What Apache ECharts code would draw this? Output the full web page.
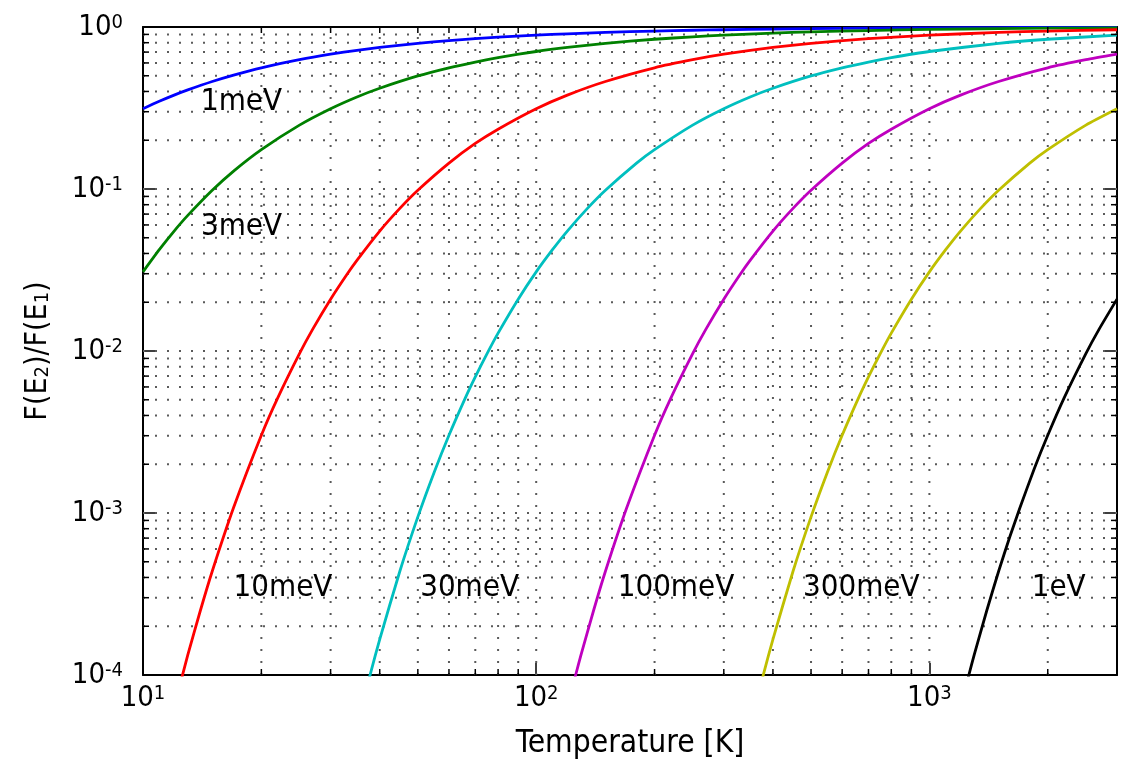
<!DOCTYPE html>
<html><head><meta charset="utf-8">
<script src="https://cdn.jsdelivr.net/npm/echarts@6/dist/echarts.min.js"></script>
<style>html,body{margin:0;padding:0;background:#fff}#c{width:1124px;height:761px}</style>
</head><body><div id="c"></div>
<script>
// Values
const T_1meV = [10,11,12,13,15,17,20,25,30,35,40,50,60,70,80,100,120,150,200,250,300,400,500,700,1000,1500,2000,3000];
const R_1meV = [0.313,0.348,0.380,0.409,0.461,0.505,0.560,0.628,0.679,0.718,0.748,0.793,0.824,0.847,0.865,0.890,0.908,0.926,0.944,0.955,0.962,0.971,0.977,0.984,0.988,0.992,0.994,0.996];
const T_3meV = [10,11,12,13,15,17,20,25,30,35,40,50,60,70,80,100,120,150,200,250,300,400,500,700,1000,1500,2000,3000];
const R_3meV = [0.0308,0.0422,0.0550,0.0687,0.0982,0.129,0.175,0.248,0.313,0.370,0.419,0.499,0.560,0.608,0.647,0.706,0.748,0.793,0.840,0.870,0.890,0.917,0.933,0.951,0.966,0.977,0.983,0.988];
const T_10meV = [12,13,14,15,17,20,22,25,27,30,33,35,40,45,50,60,70,80,100,120,150,200,250,300,400,500,700,1000,1500,2000,3000];
const R_10meV = [6.31e-5,1.33e-4,2.51e-4,4.37e-4,1.08e-3,3.02e-3,5.12e-3,9.64e-3,0.0136,0.0209,0.0297,0.0363,0.0550,0.0759,0.0982,0.1445,0.191,0.234,0.313,0.380,0.461,0.560,0.628,0.679,0.748,0.793,0.847,0.890,0.926,0.944,0.962];
const T_30meV = [36,38,40,45,50,55,60,66,70,75,80,90,100,110,120,135,150,180,200,250,300,350,400,500,600,700,800,1000,1500,2000,3000];
const R_30meV = [6.31e-5,1.05e-4,1.66e-4,4.37e-4,9.46e-4,1.78e-3,3.02e-3,5.12e-3,6.92e-3,9.64e-3,0.0129,0.0209,0.0308,0.0422,0.0550,0.0759,0.0982,0.1445,0.175,0.248,0.313,0.370,0.419,0.499,0.560,0.608,0.647,0.706,0.793,0.840,0.890];
const T_100meV = [120,126,130,140,150,170,200,220,250,270,300,330,350,400,450,500,600,700,800,1000,1200,1500,2000,2500,3000];
const R_100meV = [6.31e-5,1.0e-4,1.33e-4,2.51e-4,4.37e-4,1.08e-3,3.02e-3,5.12e-3,9.64e-3,0.0136,0.0209,0.0297,0.0363,0.0550,0.0759,0.0982,0.1445,0.191,0.234,0.313,0.380,0.461,0.560,0.628,0.679];
const T_300meV = [360,380,400,450,500,550,600,660,700,750,800,900,1000,1100,1200,1350,1500,1800,2000,2500,3000];
const R_300meV = [6.31e-5,1.05e-4,1.66e-4,4.37e-4,9.46e-4,1.78e-3,3.02e-3,5.12e-3,6.92e-3,9.64e-3,0.0129,0.0209,0.0308,0.0422,0.0550,0.0759,0.0982,0.1445,0.175,0.248,0.313];
const T_1eV = [1200,1260,1300,1400,1500,1600,1700,1850,2000,2200,2500,2700,3000];
const R_1eV = [6.31e-5,1.0e-4,1.33e-4,2.51e-4,4.37e-4,7.08e-4,1.08e-3,1.89e-3,3.02e-3,5.12e-3,9.64e-3,0.0136,0.0209];

const seriesNames = ['1meV','3meV','10meV','30meV','100meV','300meV','1eV'];
const seriesT = [T_1meV,T_3meV,T_10meV,T_30meV,T_100meV,T_300meV,T_1eV];
const seriesR = [R_1meV,R_3meV,R_10meV,R_30meV,R_100meV,R_300meV,R_1eV];
const seriesColors = ['#0000ff','#008000','#ff0000','#00bfbf','#bf00bf','#bfbf00','#000000'];
// label anchors (data coords) for the in-plot curve labels
const labelT = [17.8,17.8,22.7,67.7,226.7,671,2132];
const labelR = [0.344,0.0582,3.44e-4,3.44e-4,3.44e-4,3.44e-4,3.44e-4];

const xMin = 10, xMax = 3000, yMin = 1e-4, yMax = 1;
const xDecades = [10,100,1000];
const yDecades = [1e-4,1e-3,1e-2,1e-1];

const FONT = "'DejaVu Sans Condensed', 'DejaVu Sans'";
const chart = echarts.init(document.getElementById('c'), null, {renderer:'canvas'});

function powLabel(v){
  const e = Math.round(Math.log10(v));
  if (Math.abs(Math.log10(v) - e) > 1e-6) return '';
  return '{b|10}{s|' + e + '}';
}
const richTick = {
  b:{fontSize:29, fontFamily:FONT, color:'#000'},
  s:{fontSize:20, fontFamily:FONT, color:'#000', verticalAlign:'top'}
};

const baseAxis = {
  type:'log', logBase:10,
  axisLine:{show:true, onZero:false, lineStyle:{color:'#000', width:2}},
  axisTick:{show:true, inside:true, length:12, lineStyle:{color:'#000', width:1.5}},
  splitLine:{show:false},
  minorTick:{show:false}
};

const series = seriesNames.map((n,i)=>({
  name:n, type:'line', xAxisIndex:0, yAxisIndex:0,
  data: seriesT[i].map((t,j)=>[t, seriesR[i][j]]),
  showSymbol:false, smooth:0.2, clip:true,
  lineStyle:{color:seriesColors[i], width:2.8},
  itemStyle:{color:seriesColors[i]},
  z:5,
  markPoint:{
    symbol:'circle', symbolSize:1, itemStyle:{color:'rgba(0,0,0,0)'},
    data:[{coord:[labelT[i], labelR[i]], value:n,
      label:{show:true, position:'inside', formatter:n, color:'#000', fontSize:31, fontFamily:FONT}}]
  }
}));

chart.setOption({
  animation:false,
  backgroundColor:'#fff',
  grid:{left:143, right:7, top:27, bottom:86, containLabel:false, outerBoundsMode:'none'},
  xAxis:[
    Object.assign({}, baseAxis, {
      position:'bottom', min:xMin, max:xMax,
      axisLabel:{show:true, margin:9, formatter:powLabel, rich:richTick},
      name:'Temperature [K]', nameLocation:'middle', nameGap:53,
      nameTextStyle:{fontSize:31.5, fontFamily:FONT, color:'#000'}
    }),
    Object.assign({}, baseAxis, {position:'top', min:xMin, max:xMax, axisLabel:{show:false}})
  ],
  yAxis:[
    Object.assign({}, baseAxis, {
      position:'left', min:yMin, max:yMax,
      axisLabel:{show:true, margin:20, formatter:powLabel, rich:richTick},
      name:'{a|F(E}{sub|2}{a|)/F(E}{sub|1}{a|)}', nameLocation:'middle', nameGap:90, nameRotate:90,
      nameTextStyle:{rich:{
        a:{fontSize:30, fontFamily:FONT, color:'#000'},
        sub:{fontSize:20, fontFamily:FONT, color:'#000', verticalAlign:'bottom'}
      }}
    }),
    Object.assign({}, baseAxis, {position:'right', min:yMin, max:yMax, axisLabel:{show:false}})
  ],
  series: series
});

// Grid lines (major + minor) and minor ticks on all four sides
function decor(){
  const els = [];
  const xl = chart.convertToPixel({xAxisIndex:0}, xMin);
  const xr = chart.convertToPixel({xAxisIndex:0}, xMax);
  const yb = chart.convertToPixel({yAxisIndex:0}, yMin);
  const yt = chart.convertToPixel({yAxisIndex:0}, yMax);
  const gridStyle = {stroke:'#5a5a5a', lineWidth:2, lineDash:[2,10]};
  const tickStyle = {stroke:'#000', lineWidth:1.5};
  const minorLen = 6;
  xDecades.forEach(d=>{
    for (let m=1;m<=9;m++){
      const v = m*d;
      if (v < xMin || v >= xMax) continue;
      const px = chart.convertToPixel({xAxisIndex:0}, v);
      if (v > xMin) els.push({type:'line', z:1, silent:true, shape:{x1:px,y1:yb,x2:px,y2:yt}, style:gridStyle});
      if (m>1){
        els.push({type:'line', z:20, silent:true, shape:{x1:px,y1:yb,x2:px,y2:yb-minorLen}, style:tickStyle});
        els.push({type:'line', z:20, silent:true, shape:{x1:px,y1:yt,x2:px,y2:yt+minorLen}, style:tickStyle});
      }
    }
  });
  yDecades.forEach(d=>{
    for (let m=1;m<=9;m++){
      const v = m*d;
      if (v <= yMin*0.999 || v >= yMax) continue;
      const py = chart.convertToPixel({yAxisIndex:0}, v);
      if (v > yMin*1.001) els.push({type:'line', z:1, silent:true, shape:{x1:xl,y1:py,x2:xr,y2:py}, style:gridStyle});
      if (m>1){
        els.push({type:'line', z:20, silent:true, shape:{x1:xl,y1:py,x2:xl+minorLen,y2:py}, style:tickStyle});
        els.push({type:'line', z:20, silent:true, shape:{x1:xr,y1:py,x2:xr-minorLen,y2:py}, style:tickStyle});
      }
    }
  });
  chart.setOption({graphic:{elements:els}});
}
decor();
</script>
</body></html>
